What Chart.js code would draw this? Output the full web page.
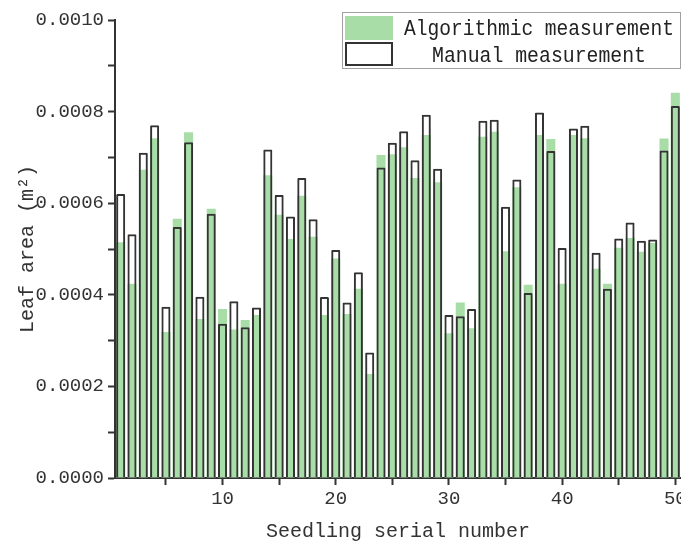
<!DOCTYPE html>
<html>
<head>
    <meta charset="UTF-8">
    <script src="https://cdn.jsdelivr.net/npm/chart.js@4.4.1/dist/chart.umd.min.js" type="text/javascript"></script>
    <title>Leaf area</title>
    <style>
        body { margin: 0; background: #fff; }
        #box { width: 681px; height: 544px; }
    </style>
</head>
<body>
    <div id="box"><canvas id="myChart"></canvas></div>
    <script type="text/javascript">
        const seedlings = ['1','2','3','4','5','6','7','8','9','10',
            '11','12','13','14','15','16','17','18','19','20',
            '21','22','23','24','25','26','27','28','29','30',
            '31','32','33','34','35','36','37','38','39','40',
            '41','42','43','44','45','46','47','48','49','50'];
        const algorithmic = [0.000515,0.000424,0.000673,0.000742,0.000319,0.000566,0.000755,0.000347,0.000588,0.000369,
            0.000324,0.000345,0.000356,0.000661,0.000575,0.000522,0.000616,0.000527,0.000356,0.000479,
            0.000358,0.000413,0.000227,0.000705,0.000707,0.000722,0.000655,0.000749,0.000646,0.000316,
            0.000383,0.000327,0.000745,0.000756,0.000495,0.000635,0.000422,0.000749,0.000740,0.000424,
            0.000749,0.000742,0.000457,0.000424,0.000503,0.000524,0.000494,0.000513,0.000741,0.000841];
        const manual = [0.000620,0.000532,0.000710,0.000770,0.000374,0.000548,0.000733,0.000396,0.000577,0.000337,
            0.000386,0.000329,0.000372,0.000717,0.000618,0.000571,0.000655,0.000565,0.000395,0.000498,
            0.000383,0.000449,0.000274,0.000678,0.000732,0.000757,0.000694,0.000793,0.000675,0.000356,
            0.000353,0.000369,0.000780,0.000782,0.000592,0.000652,0.000404,0.000798,0.000714,0.000502,
            0.000763,0.000769,0.000492,0.000413,0.000523,0.000558,0.000518,0.000521,0.000715,0.000812];

        const green = '#a8dda8';
        const dark = '#333333';
        const font = "'Liberation Mono', monospace";

        // legend drawn by hand: boxed, two rows, top right
        const boxLegend = {
            id: 'boxLegend',
            afterDraw(chart) {
                const c = chart.ctx;
                const ds = chart.data.datasets;
                c.save();
                c.strokeStyle = '#a0a0a0';
                c.lineWidth = 1;
                c.fillStyle = '#fff';
                c.fillRect(342, 12, 338, 56);
                c.strokeRect(342.5, 12.5, 338, 56);
                c.fillStyle = ds[0].backgroundColor;
                c.fillRect(345, 16, 48, 24);
                c.strokeStyle = ds[1].borderColor;
                c.lineWidth = 2;
                c.strokeRect(346, 43, 46, 22);
                c.fillStyle = '#222';
                c.font = '22px ' + font;
                c.textAlign = 'center';
                c.textBaseline = 'alphabetic';
                c.fillText(ds[0].label, 539, 35, 270);
                c.fillText(ds[1].label, 539, 62, 214);
                c.restore();
            }
        };

        const ctx = document.getElementById('myChart').getContext('2d');
        const myChart = new Chart(ctx, {
            type: 'bar',
            data: {
                labels: seedlings,
                datasets: [{
                    label: 'Algorithmic measurement',
                    data: algorithmic,
                    backgroundColor: green,
                    borderWidth: 0,
                    grouped: false,
                    order: 2
                }, {
                    label: 'Manual measurement',
                    data: manual,
                    backgroundColor: 'rgba(0,0,0,0)',
                    borderColor: dark,
                    borderWidth: 2,
                    borderRadius: 1,
                    grouped: false,
                    order: 1
                }]
            },
            options: {
                responsive: true,
                maintainAspectRatio: false,
                animation: false,
                barPercentage: 0.8,
                categoryPercentage: 1.0,
                layout: { padding: { left: 16, top: 20, right: 0, bottom: 0 } },
                plugins: {
                    legend: { display: false },
                    tooltip: { enabled: false }
                },
                scales: {
                    x: {
                        offset: true,
                        grid: {
                            offset: false,
                            drawOnChartArea: false,
                            tickLength: 7,
                            tickWidth: 2,
                            tickColor: (c) => ((c.index + 1) % 5 === 0 ? dark : 'rgba(0,0,0,0)')
                        },
                        border: { color: dark, width: 2 },
                        ticks: {
                            autoSkip: false,
                            maxRotation: 0,
                            padding: 3,
                            color: '#333',
                            font: { family: font, size: 19 },
                            callback: function (v, i) { return (i + 1) % 10 === 0 ? this.getLabelForValue(v) : ''; }
                        },
                        title: {
                            display: true,
                            text: 'Seedling serial number',
                            color: '#333',
                            font: { family: font, size: 20 },
                            padding: { top: 6, bottom: 0 }
                        },
                        afterFit: (s) => { s.height = 66; s.paddingLeft = 0; s.paddingRight = 0; }
                    },
                    y: {
                        min: 0,
                        max: 0.001,
                        grid: {
                            drawOnChartArea: false,
                            tickLength: 7,
                            tickWidth: 2,
                            tickColor: dark
                        },
                        border: { color: dark, width: 2 },
                        ticks: {
                            stepSize: 0.0001,
                            padding: 4,
                            color: '#333',
                            font: { family: font, size: 19 },
                            callback: (v) => (Math.round(v * 10000) % 2 === 0 ? v.toFixed(4) : '')
                        },
                        title: {
                            display: true,
                            text: 'Leaf area (m²)',
                            color: '#333',
                            font: { family: font, size: 20 },
                            padding: 0
                        },
                        afterFit: (s) => { s.width = 99; }
                    }
                }
            },
            plugins: [boxLegend]
        });
    </script>
</body>
</html>
